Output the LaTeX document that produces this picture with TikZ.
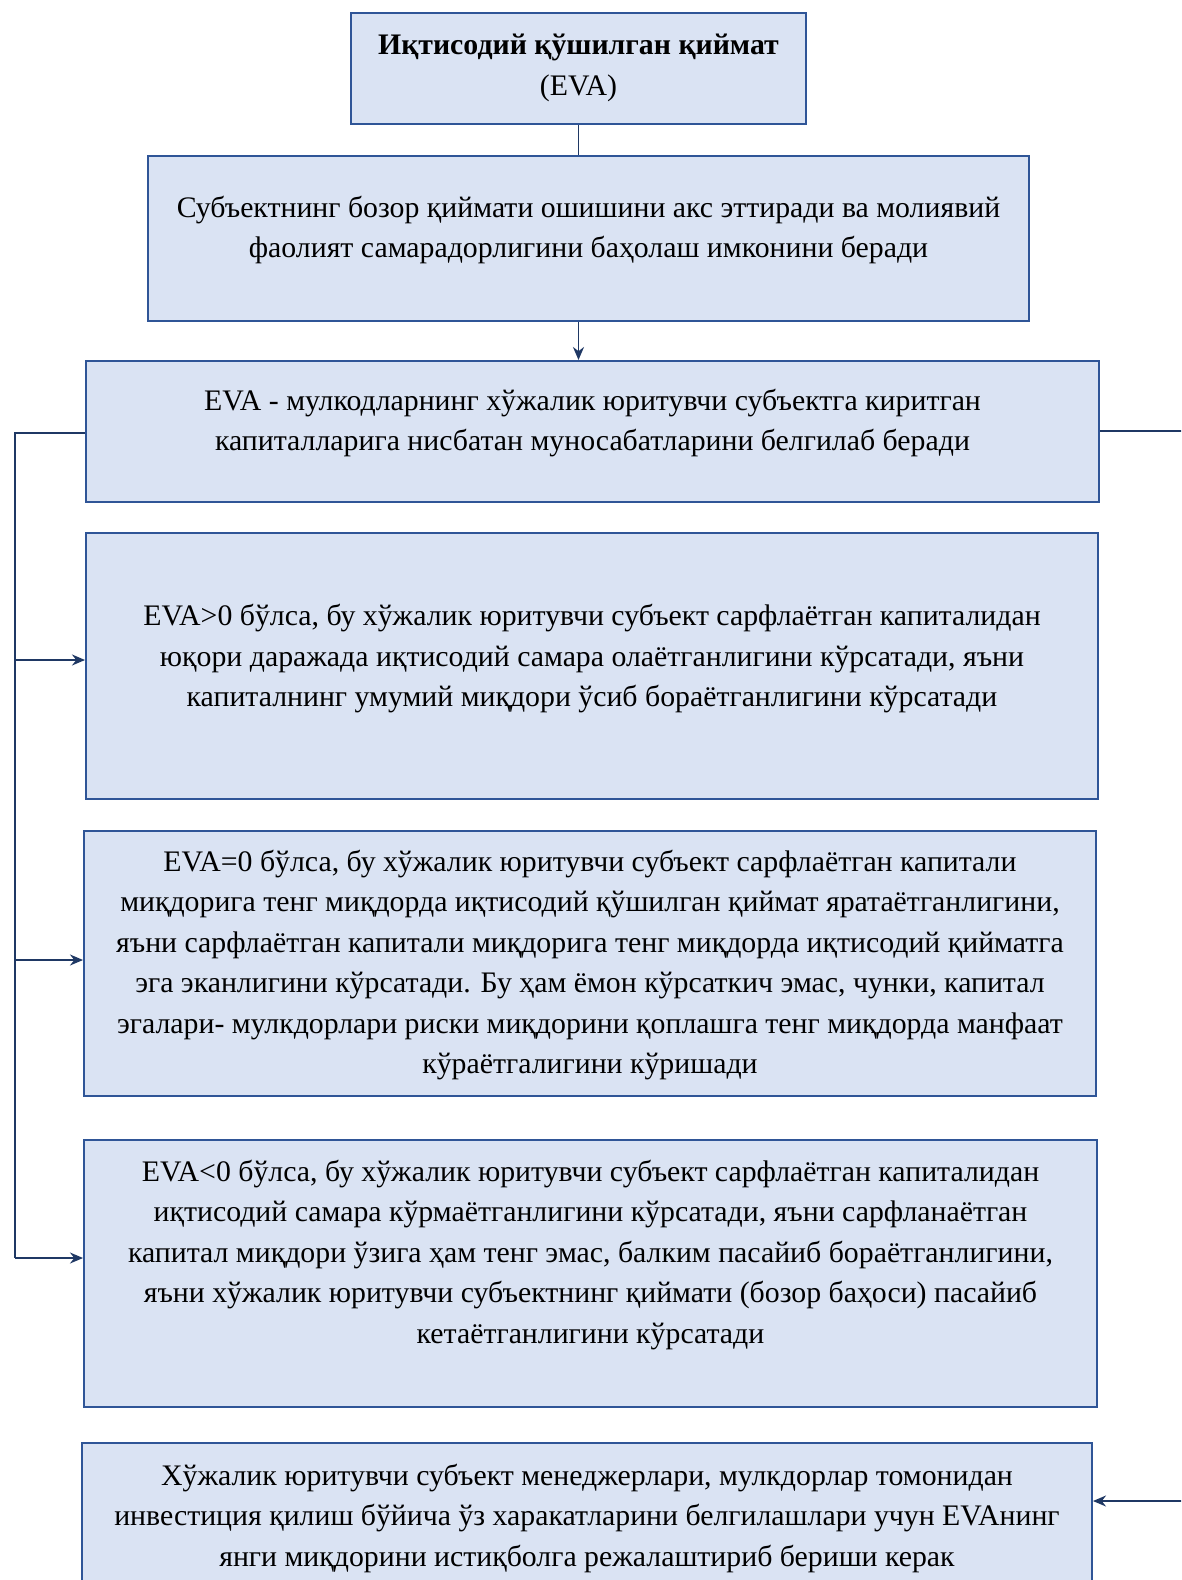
\documentclass[tikz,border=0pt]{standalone}
\usepackage{fontspec}
\setmainfont{Liberation Serif}
\usetikzlibrary{arrows.meta}
\definecolor{boxfill}{HTML}{DAE3F3}
\definecolor{boxline}{HTML}{2F5597}
\definecolor{conn}{HTML}{1F3864}
\tikzset{
  box/.style={draw=boxline, fill=boxfill, line width=2pt, rectangle, inner sep=0pt},
  txt/.style={align=center, inner sep=0pt, font=\fontsize{29.8}{40.5}\selectfont},
  link/.style={draw=conn, line width=1.8pt},
  arr/.style={link, -{Stealth[length=13pt,width=11pt]}}
}
\begin{document}
\begin{tikzpicture}[x=1pt,y=-1pt]
\clip (0,0) rectangle (1181,1580);
\fill[white] (0,0) rectangle (1181,1580);
% boxes
\node[box, minimum width=455pt, minimum height=111pt] (b1) at (578.5,68.5) {};
\node[box, minimum width=881pt, minimum height=165pt] (b2) at (588.5,238.5) {};
\node[box, minimum width=1013pt, minimum height=141pt] (b3) at (592.5,431.5) {};
\node[box, minimum width=1012pt, minimum height=266pt] (b4) at (592,666) {};
\node[box, minimum width=1012pt, minimum height=265pt] (b5) at (590,963.5) {};
\node[box, minimum width=1013pt, minimum height=267pt] (b6) at (590.5,1273.5) {};
\node[box, minimum width=1010pt, minimum height=200pt] (b7) at (587,1543) {};
% texts
\node[txt] (t1) at (578.5,68) {\textbf{Иқтисодий қўшилган қиймат}\\(EVA)};
\node[txt] (t2) at (588.5,230) {Субъектнинг бозор қиймати ошишини акс эттиради ва молиявий\\фаолият самарадорлигини баҳолаш имконини беради};
\node[txt] (t3) at (592.5,423) {EVA - мулкодларнинг хўжалик юритувчи субъектга киритган\\капиталларига нисбатан муносабатларини белгилаб беради};
\node[txt] (t4) at (592,659) {EVA>0 бўлса, бу хўжалик юритувчи субъект сарфлаётган капиталидан\\юқори даражада иқтисодий самара олаётганлигини кўрсатади, яъни\\капиталнинг умумий миқдори ўсиб бораётганлигини кўрсатади};
\node[txt] (t5) at (590,965) {EVA=0 бўлса, бу хўжалик юритувчи субъект сарфлаётган капитали\\миқдорига тенг миқдорда иқтисодий қўшилган қиймат яратаётганлигини,\\яъни сарфлаётган капитали миқдорига тенг миқдорда иқтисодий қийматга\\эга эканлигини кўрсатади. Бу ҳам ёмон кўрсаткич эмас, чунки, капитал\\эгалари- мулкдорлари риски миқдорини қоплашга тенг миқдорда манфаат\\кўраётгалигини кўришади};
\node[txt] (t6) at (590.5,1255) {EVA<0 бўлса, бу хўжалик юритувчи субъект сарфлаётган капиталидан\\иқтисодий самара кўрмаётганлигини кўрсатади, яъни сарфланаётган\\капитал миқдори ўзига ҳам тенг эмас, балким пасайиб бораётганлигини,\\яъни хўжалик юритувчи субъектнинг қиймати (бозор баҳоси) пасайиб\\кетаётганлигини кўрсатади};
\node[txt] (t7) at (587,1518) {Хўжалик юритувчи субъект менеджерлари, мулкдорлар томонидан\\инвестиция қилиш бўйича ўз харакатларини белгилашлари учун EVAнинг\\янги миқдорини истиқболга режалаштириб бериши керак};
% connectors
\draw[link] (b1.south) -- (b1.south |- b2.north);
\draw[arr] (b1.south |- b2.south) -- (b1.south |- b3.north);
\coordinate (lt) at (15,433);
\coordinate (lb) at (15,1258);
\draw[link] (b3.west |- lt) -- (lt) -- (lb);
\draw[arr] (15,660) -- (b4.west |- 0,660);
\draw[arr] (15,960) -- (b5.west |- 0,960);
\draw[arr] (lb) -- (b6.west |- lb);
\coordinate (rt) at (1200,431);
\coordinate (rb) at (1200,1501);
\draw[link] (b3.east |- rt) -- (rt) -- (rb);
\draw[arr] (rb) -- (b7.east |- rb);
\end{tikzpicture}
\end{document}
